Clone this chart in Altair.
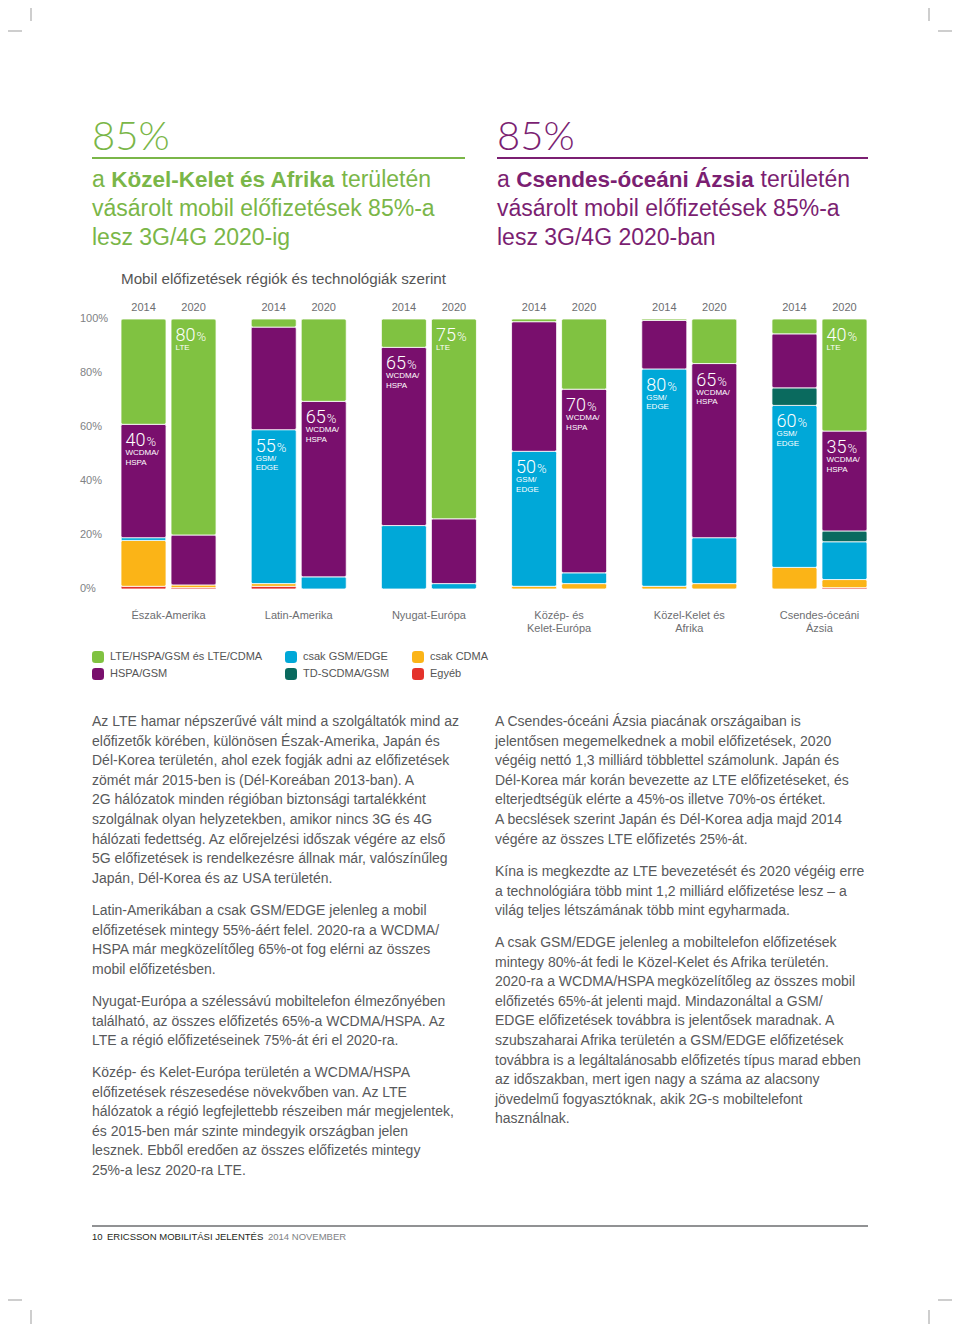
import altair as alt
import pandas as pd

# ---------------- data ----------------
regions = ["Észak-Amerika", "Latin-Amerika", "Nyugat-Európa",
           "Közép- és Kelet-Európa", "Közel-Kelet és Afrika", "Csendes-óceáni Ázsia"]
region_labels = ["Észak-Amerika", "Latin-Amerika", "Nyugat-Európa",
                 "Közép- és\nKelet-Európa", "Közel-Kelet és\nAfrika", "Csendes-óceáni\nÁzsia"]
years = ["2014", "2020"]

# stacking order, bottom to top
tech_order = ["Egyéb", "csak CDMA", "csak GSM/EDGE", "TD-SCDMA/GSM", "HSPA/GSM",
              "LTE/HSPA/GSM és LTE/CDMA"]
legend_order = ["LTE/HSPA/GSM és LTE/CDMA", "csak GSM/EDGE", "csak CDMA",
                "HSPA/GSM", "TD-SCDMA/GSM", "Egyéb"]
tech_colors = {"LTE/HSPA/GSM és LTE/CDMA": "#80c241", "csak GSM/EDGE": "#00a8d8",
               "csak CDMA": "#fbb417", "HSPA/GSM": "#790f6d",
               "TD-SCDMA/GSM": "#0a6a5e", "Egyéb": "#e4322b"}

# shares (%) per bar: NA14, NA20, LA14, LA20, WE14, WE20, CEE14, CEE20, MEA14, MEA20, AP14, AP20
share_egyeb = [1, 0.5, 1, 0, 0, 0, 0, 0, 0, 0, 0, 0.5]
share_cdma = [17, 1, 1, 0, 0, 0, 1, 2, 1, 2, 8, 3]
share_gsm = [1, 0, 57, 4.5, 23.5, 2, 50, 4, 80.5, 17, 60, 14]
share_td = [0, 0, 0, 0, 0, 0, 0, 0, 0, 0, 6.5, 4]
share_hspa = [42, 18.5, 38, 65, 66, 24, 48, 68, 18, 64.5, 20, 37]
share_lte = [39, 80, 3, 30.5, 10.5, 74, 1, 26, 0.5, 16.5, 5.5, 41.5]

# in-bar annotations
ann_region = ["Észak-Amerika", "Észak-Amerika", "Latin-Amerika", "Latin-Amerika",
              "Nyugat-Európa", "Nyugat-Európa", "Közép- és Kelet-Európa",
              "Közép- és Kelet-Európa", "Közel-Kelet és Afrika", "Közel-Kelet és Afrika",
              "Csendes-óceáni Ázsia", "Csendes-óceáni Ázsia", "Csendes-óceáni Ázsia"]
ann_year = ["2014", "2020", "2014", "2020", "2014", "2020", "2014", "2020",
            "2014", "2020", "2014", "2020", "2020"]
ann_tech = ["HSPA/GSM", "LTE/HSPA/GSM és LTE/CDMA", "csak GSM/EDGE", "HSPA/GSM",
            "HSPA/GSM", "LTE/HSPA/GSM és LTE/CDMA", "csak GSM/EDGE", "HSPA/GSM",
            "csak GSM/EDGE", "HSPA/GSM", "csak GSM/EDGE", "LTE/HSPA/GSM és LTE/CDMA",
            "HSPA/GSM"]
ann_value = ["40", "80", "55", "65", "65", "75", "50", "70", "80", "65", "60", "40", "35"]
ann_sub_names = {"LTE/HSPA/GSM és LTE/CDMA": "LTE", "HSPA/GSM": "WCDMA/\nHSPA",
                 "csak GSM/EDGE": "GSM/\nEDGE"}

y_ticks = [0, 20, 40, 60, 80, 100]

title_text = "Mobil előfizetések régiók és technológiák szerint"
big_left = "85%"
big_right = "85%"
head_left = [["a", "Közel-Kelet és Afrika", "területén"],
             "vásárolt mobil előfizetések 85%-a", "lesz 3G/4G 2020-ig"]
head_right = [["a", "Csendes-óceáni Ázsia", "területén"],
              "vásárolt mobil előfizetések 85%-a", "lesz 3G/4G 2020-ban"]

para_left = [
    "Az LTE hamar népszerűvé vált mind a szolgáltatók mind az\n"
    "előfizetők körében, különösen Észak-Amerika, Japán és\n"
    "Dél-Korea területén, ahol ezek fogják adni az előfizetések\n"
    "zömét már 2015-ben is (Dél-Koreában 2013-ban). A\n"
    "2G hálózatok minden régióban biztonsági tartalékként\n"
    "szolgálnak olyan helyzetekben, amikor nincs 3G és 4G\n"
    "hálózati fedettség. Az előrejelzési időszak végére az első\n"
    "5G előfizetések is rendelkezésre állnak már, valószínűleg\n"
    "Japán, Dél-Korea és az USA területén.",
    "Latin-Amerikában a csak GSM/EDGE jelenleg a mobil\n"
    "előfizetések mintegy 55%-áért felel. 2020-ra a WCDMA/\n"
    "HSPA már megközelítőleg 65%-ot fog elérni az összes\n"
    "mobil előfizetésben.",
    "Nyugat-Európa a szélessávú mobiltelefon élmezőnyében\n"
    "található, az összes előfizetés 65%-a WCDMA/HSPA. Az\n"
    "LTE a régió előfizetéseinek 75%-át éri el 2020-ra.",
    "Közép- és Kelet-Európa területén a WCDMA/HSPA\n"
    "előfizetések részesedése növekvőben van. Az LTE\n"
    "hálózatok a régió legfejlettebb részeiben már megjelentek,\n"
    "és 2015-ben már szinte mindegyik országban jelen\n"
    "lesznek. Ebből eredően az összes előfizetés mintegy\n"
    "25%-a lesz 2020-ra LTE.",
]
para_right = [
    "A Csendes-óceáni Ázsia piacának országaiban is\n"
    "jelentősen megemelkednek a mobil előfizetések, 2020\n"
    "végéig nettó 1,3 milliárd többlettel számolunk. Japán és\n"
    "Dél-Korea már korán bevezette az LTE előfizetéseket, és\n"
    "elterjedtségük elérte a 45%-os illetve 70%-os értéket.\n"
    "A becslések szerint Japán és Dél-Korea adja majd 2014\n"
    "végére az összes LTE előfizetés 25%-át.",
    "Kína is megkezdte az LTE bevezetését és 2020 végéig erre\n"
    "a technológiára több mint 1,2 milliárd előfizetése lesz – a\n"
    "világ teljes létszámának több mint egyharmada.",
    "A csak GSM/EDGE jelenleg a mobiltelefon előfizetések\n"
    "mintegy 80%-át fedi le Közel-Kelet és Afrika területén.\n"
    "2020-ra a WCDMA/HSPA megközelítőleg az összes mobil\n"
    "előfizetés 65%-át jelenti majd. Mindazonáltal a GSM/\n"
    "EDGE előfizetések továbbra is jelentősek maradnak. A\n"
    "szubszaharai Afrika területén a GSM/EDGE előfizetések\n"
    "továbbra is a legáltalánosabb előfizetés típus marad ebben\n"
    "az időszakban, mert igen nagy a száma az alacsony\n"
    "jövedelmű fogyasztóknak, akik 2G-s mobiltelefont\n"
    "használnak.",
]
footer_parts = ["10", "ERICSSON MOBILITÁSI JELENTÉS", "2014 NOVEMBER"]

# ---------------- build tables ----------------
series = [share_egyeb, share_cdma, share_gsm, share_td, share_hspa, share_lte]
bar_keys = [(r, y) for r in regions for y in years]
rows = []
for i, (reg, yr) in enumerate(bar_keys):
    cum = 0.0
    for t, vals in zip(tech_order, series):
        v = vals[i]
        rows.append(dict(region=reg, year=yr, tech=t, y0=cum, y1=cum + v, v=v))
        cum += v
stack = pd.DataFrame(rows)
bars_df = stack[stack.v > 0]

tops = {(r.region, r.year, r.tech): r.y1 for r in stack.itertuples()}
ann_df = pd.DataFrame(dict(region=ann_region, year=ann_year, tech=ann_tech, num=ann_value))
ann_df["top"] = [tops[(a, b, c)] for a, b, c in zip(ann_region, ann_year, ann_tech)]
ann_df["pct"] = "%"
ann_df["sub"] = [ann_sub_names[t] for t in ann_tech]

years_df = pd.DataFrame(dict(region=[k[0] for k in bar_keys], year=[k[1] for k in bar_keys]))
ticks_df = pd.DataFrame(dict(v=y_ticks, label=[f"{t}%" for t in y_ticks]))
reglab_df = pd.DataFrame(dict(region=regions, label=region_labels))

# ---------------- layout (page pixels minus 8px margin) ----------------
O = 8
FONT = "Liberation Sans"
GREEN_T = "#7ab648"
PURPLE_T = "#7b1f72"
BODY = "#58595b"

x_scale = alt.Scale(type="band", domain=regions, range=[121 - O, 867 - O],
                    paddingInner=0.27, paddingOuter=0)
xo_scale = alt.Scale(type="band", domain=years, paddingInner=0.1, paddingOuter=0)
y_scale = alt.Scale(domain=[0, 100], range=[589 - O, 319 - O])

rounded = ("M-1,-0.45 Q-1,-1 -0.45,-1 L0.45,-1 Q1,-1 1,-0.45 L1,0.45 Q1,1 0.45,1 "
           "L-0.45,1 Q-1,1 -1,0.45 Z")

bars = alt.Chart(bars_df).mark_bar(stroke="white", strokeWidth=0.8, cornerRadius=2).encode(
    x=alt.X("region:N", scale=x_scale, axis=None),
    xOffset=alt.XOffset("year:N", scale=xo_scale),
    y=alt.Y("y0:Q", scale=y_scale, axis=None),
    y2="y1:Q",
    color=alt.Color("tech:N",
                    scale=alt.Scale(domain=legend_order,
                                    range=[tech_colors[t] for t in legend_order]),
                    legend=alt.Legend(orient="none", legendX=92 - O, legendY=651 - O,
                                      direction="horizontal", columns=3, title=None,
                                      symbolType=rounded, symbolSize=144,
                                      symbolStrokeWidth=0, labelFont=FONT,
                                      labelFontSize=11, labelColor="#555555",
                                      columnPadding=22, rowPadding=5, labelOffset=6,
                                      padding=0)),
)

year_text = alt.Chart(years_df).mark_text(font=FONT, fontSize=11, color="#6d6e71",
                                          baseline="alphabetic").encode(
    x=alt.X("region:N", scale=x_scale, axis=None),
    xOffset=alt.XOffset("year:N", scale=xo_scale),
    y=alt.value(311 - O),
    text="year:N",
)

tick_text = alt.Chart(ticks_df).mark_text(font=FONT, fontSize=11, color="#808285",
                                          align="left", baseline="middle").encode(
    x=alt.value(80 - O),
    y=alt.Y("v:Q", scale=y_scale, axis=None),
    text="label:N",
)

region_text = alt.Chart(reglab_df).mark_text(font=FONT, fontSize=11, color="#6d6e71",
                                             baseline="alphabetic", lineBreak="\n",
                                             lineHeight=13).encode(
    x=alt.X("region:N", scale=x_scale, axis=None),
    y=alt.value(619 - O),
    text="label:N",
)

ann_enc = dict(
    x=alt.X("region:N", scale=x_scale, axis=None),
    xOffset=alt.XOffset("year:N", scale=xo_scale),
    y=alt.Y("top:Q", scale=y_scale, axis=None),
)
ann_num = alt.Chart(ann_df).mark_text(font="Roboto", fontWeight=300, fontSize=18,
                                      color="white", align="left", baseline="alphabetic",
                                      dx=-18, dy=22).encode(text="num:N", **ann_enc)
ann_pct = alt.Chart(ann_df).mark_text(font="Roboto", fontWeight=300, fontSize=13,
                                      color="white", align="left", baseline="alphabetic",
                                      dx=3, dy=22).encode(text="pct:N", **ann_enc)
ann_sub = alt.Chart(ann_df).mark_text(font=FONT, fontSize=8, color="white", align="left",
                                      baseline="top", lineBreak="\n", lineHeight=9.5,
                                      dx=-18, dy=25).encode(text="sub:N", **ann_enc)

# pixel-positioned page texts
px = dict(x=alt.X("x:Q", scale=None, axis=None), y=alt.Y("y:Q", scale=None, axis=None))

big_df = pd.DataFrame(dict(x=[92 - O, 497 - O], y=[150 - O, 150 - O],
                           t=[big_left, big_right], c=[GREEN_T, PURPLE_T]))
big = alt.Chart(big_df).mark_text(font="Lato", fontWeight=300, fontSize=40, align="left",
                                  baseline="alphabetic").encode(
    text="t:N", color=alt.Color("c:N", scale=None), **px)

head_rows, bold_rows = [], []
for xs, head, col, bx in [(92, head_left, GREEN_T, [92, 111.2, 341.5]),
                          (497, head_right, PURPLE_T, [497, 516.2, 760.5])]:
    first = head[0]
    head_rows.append(dict(x=bx[0] - O, y=187 - O, t=first[0], c=col))
    bold_rows.append(dict(x=bx[1] - O, y=187 - O, t=first[1], c=col))
    head_rows.append(dict(x=bx[2] - O, y=187 - O, t=first[2], c=col))
    head_rows.append(dict(x=xs - O, y=216 - O, t=head[1], c=col))
    head_rows.append(dict(x=xs - O, y=245 - O, t=head[2], c=col))
head_reg = alt.Chart(pd.DataFrame(head_rows)).mark_text(
    font=FONT, fontSize=23, align="left", baseline="alphabetic").encode(
    text="t:N", color=alt.Color("c:N", scale=None), **px)
head_bold = alt.Chart(pd.DataFrame(bold_rows)).mark_text(
    font=FONT, fontSize=22.5, fontWeight="bold", align="left", baseline="alphabetic").encode(
    text="t:N", color=alt.Color("c:N", scale=None), **px)

subtitle = alt.Chart(pd.DataFrame(dict(x=[121 - O], y=[284 - O], t=[title_text]))).mark_text(
    font=FONT, fontSize=15.2, color="#555555", align="left", baseline="alphabetic").encode(
    text="t:N", **px)

body_x = [92] * len(para_left) + [495] * len(para_right)
body_y = [726, 915, 1006, 1077, 726, 876, 947]
body_df = pd.DataFrame(dict(x=[v - O for v in body_x], y=[v - O for v in body_y],
                            t=para_left + para_right))
body = alt.Chart(body_df).mark_text(font=FONT, fontSize=14, color=BODY, align="left",
                                    baseline="alphabetic", lineBreak="\n",
                                    lineHeight=19.6).encode(text="t:N", **px)

foot_df = pd.DataFrame(dict(x=[92 - O, 107 - O, 268 - O], y=[1240 - O] * 3,
                            t=footer_parts, c=["#231f20", "#231f20", "#808285"]))
footer = alt.Chart(foot_df).mark_text(font=FONT, fontSize=9.5, align="left",
                                      baseline="alphabetic").encode(
    text="t:N", color=alt.Color("c:N", scale=None), **px)

# rules: heading underlines, footer line, crop marks
rule_df = pd.DataFrame(dict(
    x=[92, 497, 92, 31, 0, 929, 938, 0, 31, 938, 929],
    x2=[465, 868, 868, 31, 22, 929, 960, 22, 31, 960, 929],
    y=[158, 158, 1226, 0, 31, 0, 31, 1300, 1310, 1300, 1310],
    y2=[158, 158, 1226, 21, 31, 21, 31, 1300, 1332, 1300, 1332],
    c=[GREEN_T, PURPLE_T, "#6d6e71"] + ["#9d9d9d"] * 8,
    w=[2, 2, 1.5] + [1] * 8,
))
for k in ["x", "x2", "y", "y2"]:
    rule_df[k] = rule_df[k] - O
rules = alt.Chart(rule_df).mark_rule().encode(
    x=alt.X("x:Q", scale=None, axis=None), x2="x2:Q",
    y=alt.Y("y:Q", scale=None, axis=None), y2="y2:Q",
    color=alt.Color("c:N", scale=None),
    strokeWidth=alt.StrokeWidth("w:Q", scale=None),
)

chart = alt.layer(
    bars, year_text, tick_text, region_text, ann_num, ann_pct, ann_sub,
    big, head_reg, head_bold, subtitle, body, footer, rules,
).resolve_scale(
    x="independent", y="independent", color="independent"
).properties(
    width=944, height=1316, padding=0,
    autosize=alt.AutoSizeParams(type="none"),
    background="white",
).configure_view(stroke=None)

chart.save("out.html", embed_options={"renderer": "svg", "actions": False})
